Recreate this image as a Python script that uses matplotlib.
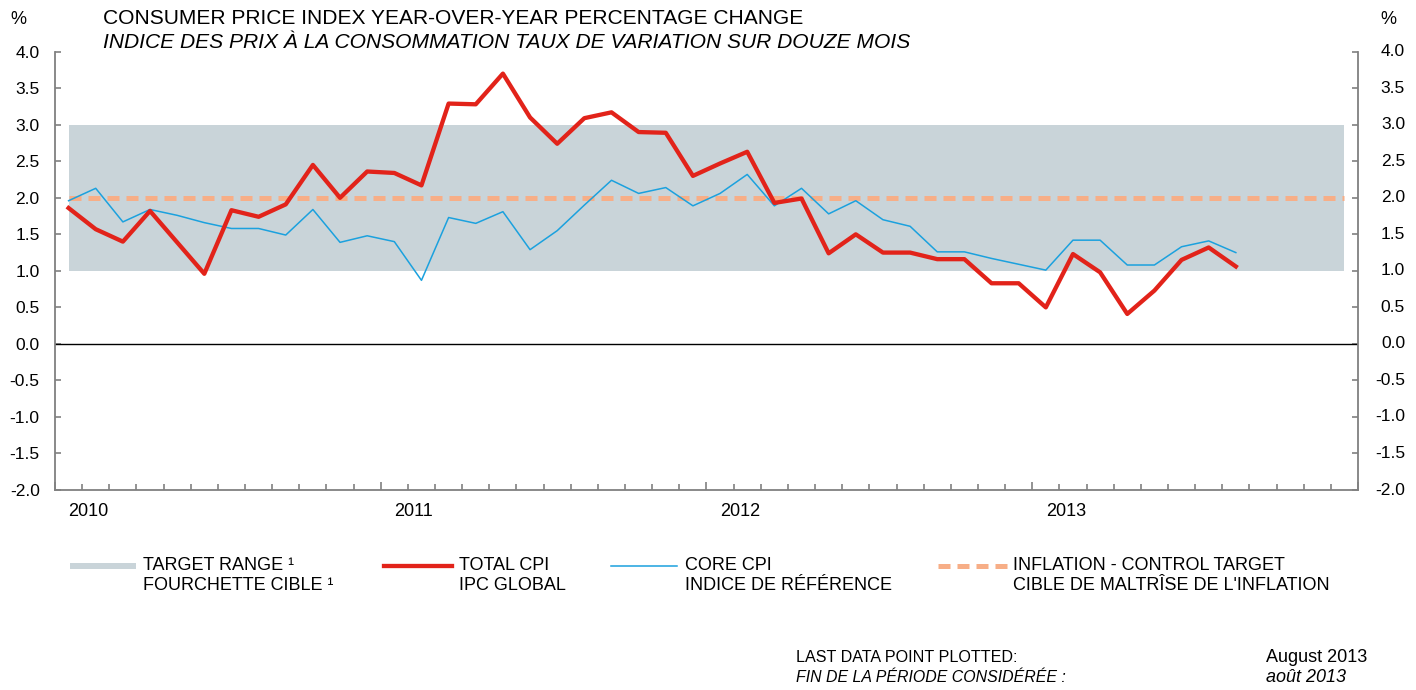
import numpy as np
import matplotlib
matplotlib.use("Agg")
import matplotlib.pyplot as plt
from matplotlib.lines import Line2D
from matplotlib.patches import Rectangle
from matplotlib.ticker import FormatStrFormatter

plt.rcParams['font.family'] = ['Liberation Sans', 'DejaVu Sans']

# monthly data, Jan 2010 .. Aug 2013
total_cpi = [1.86, 1.57, 1.40, 1.82, 1.39, 0.96, 1.83, 1.74, 1.91, 2.45, 2.00, 2.36,
             2.34, 2.17, 3.29, 3.28, 3.70, 3.10, 2.74, 3.09, 3.17, 2.90, 2.89, 2.30,
             2.47, 2.63, 1.93, 1.99, 1.24, 1.50, 1.25, 1.25, 1.16, 1.16, 0.83, 0.83,
             0.50, 1.23, 0.98, 0.41, 0.73, 1.15, 1.32, 1.06]
core_cpi = [1.96, 2.13, 1.67, 1.84, 1.76, 1.66, 1.58, 1.58, 1.49, 1.84, 1.39, 1.48,
            1.40, 0.87, 1.73, 1.65, 1.81, 1.29, 1.55, 1.90, 2.24, 2.06, 2.14, 1.89,
            2.06, 2.32, 1.89, 2.13, 1.78, 1.96, 1.70, 1.61, 1.26, 1.26, 1.17, 1.09,
            1.01, 1.42, 1.42, 1.08, 1.08, 1.33, 1.41, 1.25]
years = ['2010', '2011', '2012', '2013']
target_low, target_high = 1.0, 3.0
control_target = 2.0
n_months = 48
yticks = np.arange(-2, 4.01, 0.5)

RED = '#E2231A'
BLUE = '#1BA1DE'
BAND = '#C9D4D9'
ORANGE = '#F7AE87'
GREY = '#808080'

fig = plt.figure(figsize=(14.16, 6.9), dpi=100)
ax = fig.add_axes([55 / 1416, 1 - 490 / 690, 1303 / 1416, 438.3 / 690])

months = np.arange(n_months)
x = np.arange(len(total_cpi))

ax.fill_between(months, target_low, target_high, color=BAND, lw=0, zorder=1)
ax.plot(months, np.full(n_months, control_target), color=ORANGE, lw=3.6,
        dashes=(2.4, 1.4), zorder=2)
ax.axhline(0, color='black', lw=1.0, zorder=2)
ax.plot(x, core_cpi, color=BLUE, lw=1.1, zorder=3)
ax.plot(x, total_cpi, color=RED, lw=3.1, zorder=4)

ax.set_xlim(-0.5, n_months - 0.5)
ax.set_ylim(-2, 4)

# axes styling
ax.spines['top'].set_visible(False)
for s in ['left', 'right', 'bottom']:
    ax.spines[s].set_color(GREY)
    ax.spines[s].set_linewidth(1.3)

ax.set_yticks(yticks)
ax.yaxis.set_major_formatter(FormatStrFormatter('%.1f'))
ax.tick_params(axis='y', direction='in', left=True, right=True,
               labelleft=True, labelright=False, length=4, width=1.2,
               color=GREY, labelsize=12.5, pad=11)
# right hand labels, right aligned like the original
for v in yticks:
    ax.text(1.0361, v, '%.1f' % v, transform=ax.get_yaxis_transform(),
            ha='right', va='center', fontsize=12.5)

bound = np.arange(-0.5, n_months, 1.0)
ax.set_xticks(bound[::12], minor=False)
ax.set_xticks(bound, minor=True)
ax.set_xticklabels([])
ax.tick_params(axis='x', which='major', direction='in', length=6, width=1.2,
               color=GREY)
ax.tick_params(axis='x', which='minor', direction='in', length=4, width=1.2,
               color=GREY)

for i, yr in enumerate(years):
    ax.text(i * 12, -0.05, yr, transform=ax.get_xaxis_transform(),
            ha='left', va='center', fontsize=13)

fig.text(18 / 1416, 1 - 20 / 690, '%', fontsize=13, ha='center', va='center')
fig.text(1388 / 1416, 1 - 20 / 690, '%', fontsize=13, ha='center', va='center')

fig.text(103 / 1416, 1 - 18 / 690,
         'CONSUMER PRICE INDEX YEAR-OVER-YEAR PERCENTAGE CHANGE',
         fontsize=15.1, ha='left', va='center')
fig.text(103 / 1416, 1 - 42 / 690,
         'INDICE DES PRIX \u00c0 LA CONSOMMATION TAUX DE VARIATION SUR DOUZE MOIS',
         fontsize=15.1, ha='left', va='center', style='italic')


# legend, placed by hand
def fx(px):
    return px / 1416


def fy(py):
    return 1 - py / 690


ly = 565.5
fig.add_artist(Rectangle((fx(70), fy(568.5)), fx(136) - fx(70), 6 / 690,
                         transform=fig.transFigure, color=BAND, lw=0))
fig.add_artist(Line2D([fx(384), fx(452)], [fy(ly), fy(ly)], color=RED, lw=3.1,
                      transform=fig.transFigure))
fig.add_artist(Line2D([fx(611), fx(677)], [fy(ly), fy(ly)], color=BLUE, lw=1.1,
                      transform=fig.transFigure))
fig.add_artist(Line2D([fx(938), fx(1007)], [fy(ly), fy(ly)], color=ORANGE, lw=3.6,
                      dashes=(2.4, 1.4), transform=fig.transFigure))

legend_text = [
    (143, 'TARGET RANGE \u00b9', 'FOURCHETTE CIBLE \u00b9'),
    (459, 'TOTAL CPI', 'IPC GLOBAL'),
    (685, 'CORE CPI', 'INDICE DE R\u00c9F\u00c9RENCE'),
    (1013, 'INFLATION - CONTROL TARGET', "CIBLE DE MALTR\u00ceSE DE L'INFLATION"),
]
for px, l1, l2 in legend_text:
    fig.text(fx(px), fy(566), l1, fontsize=13, ha='left', va='center')
    fig.text(fx(px), fy(586), l2, fontsize=13, ha='left', va='center')

fig.text(fx(796), fy(657), 'LAST DATA POINT PLOTTED:', fontsize=11.6,
         ha='left', va='center')
fig.text(fx(796), fy(678), 'FIN DE LA P\u00c9RIODE CONSID\u00c9R\u00c9E :', fontsize=11.4,
         ha='left', va='center', style='italic')
fig.text(fx(1266), fy(657), 'August 2013', fontsize=13, ha='left', va='center')
fig.text(fx(1266), fy(678), 'ao\u00fbt 2013', fontsize=13, ha='left', va='center',
         style='italic')

fig.savefig('out.png', dpi=100)
